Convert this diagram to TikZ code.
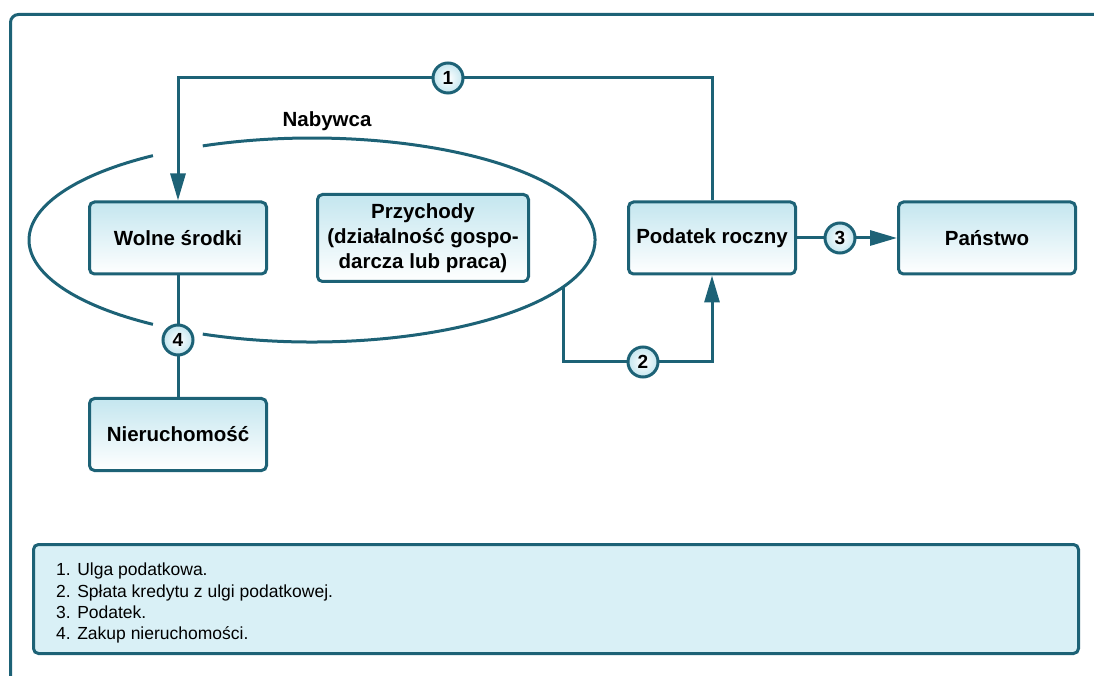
\documentclass[tikz,border=0pt]{standalone}
\usepackage{fontspec}
\setmainfont{Liberation Sans}
\usetikzlibrary{arrows.meta,backgrounds,calc}

\definecolor{lineteal}{RGB}{29,98,118}
\definecolor{boxtop}{RGB}{196,230,239}
\definecolor{legendfill}{RGB}{217,240,246}

\newcommand\dgLabel{\fontsize{20.5}{25}\selectfont\bfseries}
\newcommand\dgNum{\fontsize{19}{22}\selectfont\bfseries}
\newcommand\dgLegend{\fontsize{17.5}{21.3}\selectfont}

\begin{document}
\begin{tikzpicture}[x=1pt,y=1pt,
  box/.style={draw=lineteal, line width=3pt, rounded corners=5pt,
    top color=boxtop, bottom color=white, align=center, font=\dgLabel,
    inner sep=2pt},
  num/.style={circle, draw=lineteal, line width=3pt, inner sep=0pt,
    minimum size=30pt, inner color=white, outer color=boxtop, font=\dgNum},
  conn/.style={draw=lineteal, line width=3pt},
  arr/.style={-{Triangle[length=27pt,width=15pt]}}
]
\useasboundingbox (0,0) rectangle (1094,675);
\clip (0,0) rectangle (1094,675);

% outer frame, running off the right and bottom edges
\draw[lineteal, line width=3pt, rounded corners=8pt]
  (10.5,-200) rectangle (1300,660.5);

% boxes
\node[box, minimum width=177pt, minimum height=72pt] (wol) at (178,437) {Wolne środki};
\node[box, minimum width=211pt, minimum height=87pt] (prz) at (423,437)
  {Przychody\\(działalność gospo-\\darcza lub praca)};
\node[box, minimum width=167pt, minimum height=72pt] (pod) at (712,437) {Podatek roczny};
\node[box, minimum width=177pt, minimum height=72pt] (pan) at (987,437) {Państwo};
\node[box, minimum width=177pt, minimum height=72pt] (nie) at (178,240.5) {Nieruchomość};

\node[font=\dgLabel] (nab) at (327,554) {Nabywca};

% numbered markers
\node[num] (n1) at (448,597) {1};
\node[num] (n2) at (643,313) {2};
\node[num] (n3) at (840,437) {3};
\node[num] (n4) at (178,335) {4};

% legend
\node[draw=lineteal, line width=3pt, rounded corners=5pt, fill=legendfill,
  minimum width=1045pt, minimum height=109pt] (leg) at (556,76) {};
\node[anchor=north west, align=left, inner sep=0pt, font=\dgLegend] (legtxt) at (56,112)
  {1. Ulga podatkowa.\\
   2. Spłata kredytu z ulgi podatkowej.\\
   3. Podatek.\\
   4. Zakup nieruchomości.};

\begin{pgfonlayer}{background}
  % the buyer's ellipse, open where the connectors cross it
  \coordinate (ell) at (312,435);
  \draw[conn] ([shift={(124.2:283pt and 102pt)}]ell)
    arc[start angle=124.2, end angle=235.8, x radius=283pt, y radius=102pt];
  \draw[conn] ([shift={(247.3:283pt and 102pt)}]ell)
    arc[start angle=247.3, end angle=472.7, x radius=283pt, y radius=102pt];
  \coordinate (e2) at ([shift={(-27.5:283pt and 102pt)}]ell);

  % connectors
  \draw[conn, arr] (pod.north) |- (n1.center) -| (wol.north);
  \draw[conn, arr] (e2) |- (n2.center) -| (pod.south);
  \draw[conn, arr] (pod.east) -- (pan.west);
  \draw[conn] (wol.south) -- (nie.north);
\end{pgfonlayer}
\end{tikzpicture}
\end{document}
